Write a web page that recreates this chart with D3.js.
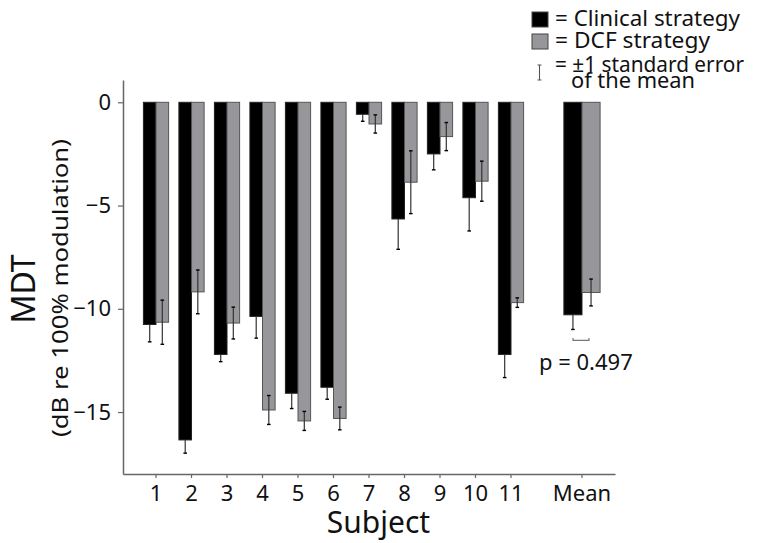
<!DOCTYPE html>
<html>
<head>
<meta charset="utf-8">
<script src="https://cdn.jsdelivr.net/npm/d3@7"></script>
<style>
  body { margin: 0; background: #fff; }
  svg text { font-family: "Noto Sans", sans-serif; fill: #111; }
</style>
</head>
<body>
<div id="chart"></div>
<script>
// values (dB re 100% modulation)
const categories = ["1", "2", "3", "4", "5", "6", "7", "8", "9", "10", "11", "Mean"];
const clinical   = [-10.76, -16.35, -12.21, -10.37, -14.09, -13.8, -0.58, -5.65, -2.5, -4.62, -12.21, -10.29];
const clinicalSE = [0.84, 0.64, 0.35, 1.05, 0.74, 0.58, 0.34, 1.47, 0.77, 1.61, 1.12, 0.71];
const dcf        = [-10.65, -9.18, -10.69, -14.9, -15.43, -15.31, -1.05, -3.87, -1.66, -3.82, -9.7, -9.21];
const dcfSE      = [1.07, 1.06, 0.77, 0.7, 0.46, 0.55, 0.44, 1.52, 0.68, 0.97, 0.23, 0.65];
const yTicks = [0, -5, -10, -15];
const pLabel = "p = 0.497";

const width = 761, height = 543;
const margin = { top: 80, right: 146, bottom: 69, left: 123 };
const w = width - margin.left - margin.right;
const h = height - margin.top - margin.bottom;

const svg = d3.select("#chart").append("svg")
    .attr("width", width)
    .attr("height", height);

const g = svg.append("g")
    .attr("transform", `translate(${margin.left},${margin.top})`);

// one empty slot between subject 11 and the mean
const slots = categories.slice(0, -1).concat(["gap", "Mean"]);
const x = d3.scaleBand().domain(slots).range([0, w]).paddingInner(0).paddingOuter(0.43);
const y = d3.scaleLinear().domain([-18, 1.08]).range([h, 0]);

const rows = categories.map((c, i) => ({
    cat: c,
    vals: [
        { key: "clin", v: clinical[i], se: clinicalSE[i] },
        { key: "dcf", v: dcf[i], se: dcfSE[i] }
    ]
}));

const barW = c => c === "Mean" ? x.step() * 0.51 : x.step() * 0.355;

// axes
const yAxis = g.append("g")
    .call(d3.axisLeft(y).tickValues(yTicks).tickSize(5).tickSizeOuter(0).tickPadding(7));
const xAxis = g.append("g")
    .attr("transform", `translate(0,${h})`)
    .call(d3.axisBottom(x).tickValues(categories).tickSize(4).tickSizeOuter(0).tickPadding(6));

[xAxis, yAxis].forEach(a => {
    a.select(".domain").attr("stroke", "#666").attr("stroke-width", 1.5);
    a.selectAll(".tick line").attr("stroke", "#666").attr("stroke-width", 1.2);
    a.selectAll(".tick text").style("font-size", "22px").attr("fill", "#111");
});
xAxis.selectAll(".tick text").attr("dy", "0.75em");

// bars
const groups = g.selectAll(".grp").data(rows).join("g")
    .attr("class", "grp")
    .attr("transform", d => `translate(${x(d.cat) + x.bandwidth() / 2},0)`);

groups.each(function (d) {
    const bw = barW(d.cat);
    const sel = d3.select(this);
    sel.selectAll("rect").data(d.vals).join("rect")
        .attr("x", (v, i) => i === 0 ? -bw : 0)
        .attr("width", bw)
        .attr("y", y(0))
        .attr("height", v => y(v.v) - y(0))
        .attr("fill", v => v.key === "clin" ? "#000" : "#97979b")
        .attr("stroke", v => v.key === "clin" ? "#222" : "#555")
        .attr("stroke-width", 1);

    // the upper half of the clinical bar's error bar is hidden in the black bar
    const eb = sel.selectAll(".eb").data(d.vals).join("g")
        .attr("class", "eb")
        .attr("transform", (v, i) => `translate(${i === 0 ? -bw / 2 : bw / 2},0)`);
    eb.append("line")
        .attr("y1", v => v.key === "clin" ? y(v.v) : y(v.v + v.se))
        .attr("y2", v => y(v.v - v.se))
        .attr("stroke", "#333").attr("stroke-width", 1.2);
    eb.selectAll(".cap")
        .data(v => v.key === "clin" ? [v.v - v.se] : [v.v + v.se, v.v - v.se])
        .join("line")
        .attr("class", "cap")
        .attr("x1", -1.8).attr("x2", 1.8)
        .attr("y1", e => y(e)).attr("y2", e => y(e))
        .attr("stroke", "#000").attr("stroke-width", 1.4);
});

// significance bracket under the mean pair
const mx = x("Mean") + x.bandwidth() / 2;
const mLow = d3.min([clinical[11] - clinicalSE[11], dcf[11] - dcfSE[11]]);
const by = y(mLow) + 11;
g.append("path")
    .attr("d", `M${mx - 9},${by - 2.5}V${by}H${mx + 7}V${by - 2.5}`)
    .attr("fill", "none").attr("stroke", "#777").attr("stroke-width", 1.2);
g.append("text")
    .attr("x", mx - 43).attr("y", by + 30)
    .style("font-size", "22px")
    .text(pLabel);

// axis titles
g.append("text")
    .attr("text-anchor", "middle")
    .attr("x", x("6") + x.bandwidth() / 2 + 45)
    .attr("y", h + 59)
    .style("font-size", "30px")
    .text("Subject");

svg.append("text")
    .attr("text-anchor", "middle")
    .attr("transform", `translate(34.5,289) rotate(-90)`)
    .style("font-size", "32px")
    .text("MDT");
svg.append("text")
    .attr("text-anchor", "middle")
    .attr("transform", `translate(68,288) rotate(-90)`)
    .attr("textLength", 298)
    .attr("lengthAdjust", "spacingAndGlyphs")
    .style("font-size", "21px")
    .text("(dB re 100% modulation)");

// legend
const legend = svg.append("g").attr("transform", "translate(531,0)");
legend.append("rect").attr("x", 1).attr("y", 12).attr("width", 16).attr("height", 15)
    .attr("fill", "#000").attr("stroke", "#444");
legend.append("rect").attr("x", 1).attr("y", 34).attr("width", 16).attr("height", 15)
    .attr("fill", "#97979b").attr("stroke", "#444");
legend.append("path").attr("d", "M6.5,65H10.5M8.5,65V80M6.5,80H10.5")
    .attr("fill", "none").attr("stroke", "#555").attr("stroke-width", 1.1);
const lt = [
    { t: "= Clinical strategy", x: 24, y: 26, len: 185 },
    { t: "= DCF strategy", x: 24, y: 48, len: 155 },
    { t: "= \u00b11 standard error", x: 24, y: 72, len: 189 },
    { t: "of the mean", x: 40, y: 88, len: 124 }
];
legend.selectAll(".lt").data(lt).join("text")
    .attr("class", "lt")
    .attr("x", d => d.x).attr("y", d => d.y)
    .attr("textLength", d => d.len)
    .attr("lengthAdjust", "spacingAndGlyphs")
    .style("font-size", "21px")
    .text(d => d.t);
</script>
</body>
</html>
